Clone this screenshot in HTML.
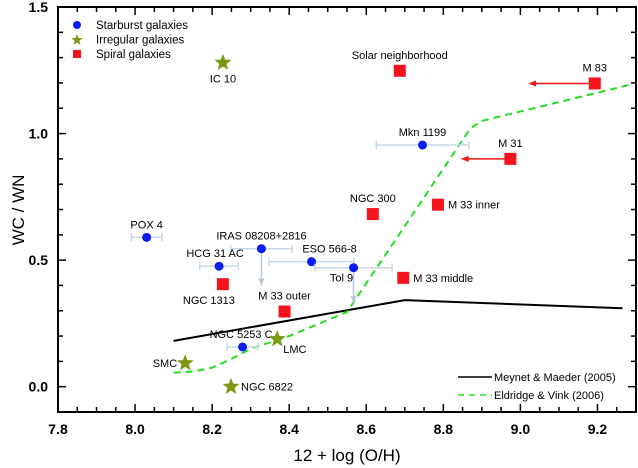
<!DOCTYPE html>
<html><head><meta charset="utf-8"><style>
html,body{margin:0;padding:0;background:#fff;}
svg{display:block;font-family:"Liberation Sans",Arial,sans-serif;}
</style></head><body>
<svg id="chart" width="638" height="468"></svg>
<script>
const xTicks=[7.8,8.0,8.2,8.4,8.6,8.8,9.0,9.2];
const yTicks=[0.0,0.5,1.0,1.5];
const starburstNames=["POX 4","IRAS 08208+2816","HCG 31 AC","ESO 566-8","Tol 9","Mkn 1199","NGC 5253 C"];
const starburstX=[8.03,8.328,8.218,8.458,8.567,8.746,8.279];
const starburstY=[0.59,0.545,0.476,0.494,0.47,0.955,0.157];
const starburstErr=[0.04,0.08,0.05,0.11,0.1,0.12,0.04];
const starburstUpper=[null,0.40,null,null,0.33,null,null];
const irregularNames=["IC 10","SMC","LMC","NGC 6822"];
const irregularX=[8.228,8.13,8.369,8.249];
const irregularY=[1.28,0.093,0.188,0.0];
const spiralNames=["Solar neighborhood","M 83","M 31","NGC 300","M 33 inner","M 33 middle","NGC 1313","M 33 outer"];
const spiralX=[8.687,9.193,8.974,8.617,8.786,8.696,8.228,8.388];
const spiralY=[1.248,1.198,0.9,0.682,0.719,0.43,0.405,0.297];
const spiralArrowTo=[null,9.02,8.845,null,null,null,null,null];
const meynetX=[8.1,8.7,9.265];
const meynetY=[0.181,0.342,0.31];
const eldridgeX=[8.10,8.15,8.20,8.25,8.30,8.40,8.55,8.87,8.90,9.29];
const eldridgeY=[0.055,0.06,0.075,0.11,0.15,0.20,0.295,1.02,1.05,1.195];

const L=58,R=636,T=7,B=412,X0=7.8,X1=9.3,Y0=-0.1,Y1=1.5;
const sx=v=>L+(v-X0)/(X1-X0)*(R-L);
const sy=v=>B-(v-Y0)/(Y1-Y0)*(B-T);
const svg=document.getElementById('chart');
const NS='http://www.w3.org/2000/svg';
function mk(tag,attrs,parent){const e=document.createElementNS(NS,tag);for(const k in attrs)e.setAttribute(k,attrs[k]);(parent||svg).appendChild(e);return e;}
function txt(x,y,s,attrs,parent){const e=mk('text',Object.assign({x:x,y:y},attrs||{}),parent);e.textContent=s;return e;}

// lines
const gl=mk('g',{});


const m=mk('polyline',{points:meynetX.map((v,i)=>sx(v)+','+sy(meynetY[i])).join(' '),fill:'none',stroke:'#000','stroke-width':2},gl);


const e2=mk('polyline',{points:eldridgeX.map((v,i)=>sx(v)+','+sy(eldridgeY[i])).join(' '),fill:'none',stroke:'#22dd22','stroke-width':2,'stroke-dasharray':'7,5'},gl);



// starburst
const sbLab=[[0,-9,'middle'],[0,-9,'middle'],[-4,-9,'middle'],[18,-9,'middle'],[-12,14,'middle'],[0,-9,'middle'],[-33,-9,'start']];
starburstX.forEach((v,i)=>{
  const g=mk('g',{});
  
  
  const x=sx(v),y=sy(starburstY[i]),xa=sx(v-starburstErr[i]),xb=sx(v+starburstErr[i]);
  mk('line',{x1:xa,x2:xb,y1:y,y2:y,stroke:'#c8d8e6','stroke-width':1.5},g);
  mk('line',{x1:xa,x2:xa,y1:y-4,y2:y+4,stroke:'#c8d8e6','stroke-width':1.5},g);
  mk('line',{x1:xb,x2:xb,y1:y-4,y2:y+4,stroke:'#c8d8e6','stroke-width':1.5},g);
  if(starburstUpper[i]!==null){const y2=sy(starburstUpper[i]);
    mk('line',{x1:x,x2:x,y1:y,y2:y2,stroke:'#b8c8d8','stroke-width':1.5},g);
    mk('polygon',{points:`${x-3},${y2-7} ${x+3},${y2-7} ${x},${y2}`,fill:'#b8c8d8'},g);}
  mk('circle',{cx:x,cy:y,r:4.5,fill:'#0a1cf5'},g);
  const lb=sbLab[i];
  const t=txt(x+lb[0],y+lb[1],starburstNames[i],{'font-size':11,'text-anchor':lb[2]},g);
  
  
});
// irregular stars
function star(cx,cy,r){let p=[];for(let k=0;k<10;k++){const a=-Math.PI/2+k*Math.PI/5,rr=k%2?r*0.42:r;p.push((cx+rr*Math.cos(a)).toFixed(1)+','+(cy+rr*Math.sin(a)).toFixed(1));}return p.join(' ');}
const irLab=[[0,20,'middle'],[-8,4,'end'],[6,14,'start'],[10,4,'start']];
irregularX.forEach((v,i)=>{
  const g=mk('g',{});
  
  
  const x=sx(v),y=sy(irregularY[i]);
  mk('polygon',{points:star(x,y,9),fill:'#7a9a12'},g);
  const t=txt(x+irLab[i][0],y+irLab[i][1],irregularNames[i],{'font-size':11,'text-anchor':irLab[i][2]},g);
  
  
});
// spiral squares
const spLab=[[0,-12,'middle'],[0,-12,'middle'],[0,-12,'middle'],[0,-12,'middle'],[10,4,'start'],[10,4,'start'],[-14,20,'middle'],[0,-12,'middle']];
spiralX.forEach((v,i)=>{
  const g=mk('g',{});
  
  
  const x=sx(v),y=sy(spiralY[i]);
  if(spiralArrowTo[i]!==null){const x2=sx(spiralArrowTo[i]);
    mk('line',{x1:x,x2:x2+6,y1:y,y2:y,stroke:'#f01818','stroke-width':1.5},g);
    mk('polygon',{points:`${x2+8},${y-3} ${x2+8},${y+3} ${x2},${y}`,fill:'#f01818'},g);}
  mk('rect',{x:x-6,y:y-6,width:12,height:12,fill:'#f5141e'},g);
  const t=txt(x+spLab[i][0],y+spLab[i][1],spiralNames[i],{'font-size':11,'text-anchor':spLab[i][2]},g);
  
  
});

// axes frame
const ax=mk('g',{});


mk('rect',{x:L,y:T,width:R-L,height:B-T,fill:'none',stroke:'#000','stroke-width':2},ax);
for(let k=0;k<=30;k++){const v=X0+k*0.05,x=sx(v),maj=k%4===0,len=maj?8:5;
  mk('line',{x1:x,x2:x,y1:B,y2:B-len,stroke:'#000','stroke-width':1.5},ax);
  mk('line',{x1:x,x2:x,y1:T,y2:T+len,stroke:'#000','stroke-width':1.5},ax);}
for(let k=0;k<=16;k++){const v=Y0+k*0.1,y=sy(v),maj=(k-1)%5===0,len=maj?8:5;
  mk('line',{x1:L,x2:L+len,y1:y,y2:y,stroke:'#000','stroke-width':1.5},ax);
  mk('line',{x1:R,x2:R-len,y1:y,y2:y,stroke:'#000','stroke-width':1.5},ax);}
xTicks.forEach(v=>{const t=txt(sx(v),434,v.toFixed(1),{'font-size':14,'font-weight':'bold','text-anchor':'middle'},ax);
  
  });
yTicks.forEach(v=>{const t=txt(48,sy(v)+5,v.toFixed(1),{'font-size':14,'font-weight':'bold','text-anchor':'end'},ax);
  
  });
const xt=txt(347,461,'12 + log (O/H)',{'font-size':17,'text-anchor':'middle'},ax);


const yt=txt(0,0,'WC / WN',{'font-size':17,'text-anchor':'middle',transform:'translate(24,210) rotate(-90)'},ax);



// legends
const lg=mk('g',{});


mk('circle',{cx:77,cy:25,r:4,fill:'#0a1cf5'},lg);
mk('polygon',{points:star(77,40,6),fill:'#7a9a12'},lg);
mk('rect',{x:73,y:50,width:8,height:8,fill:'#f5141e'},lg);
['Starburst galaxies','Irregular galaxies','Spiral galaxies'].forEach((s,i)=>{const t=txt(96,29+i*14.5,s,{'font-size':11.5},lg);
  
  });
const lg2=mk('g',{});


mk('line',{x1:458,x2:492,y1:377,y2:377,stroke:'#000','stroke-width':1.5},lg2);
mk('line',{x1:458,x2:492,y1:395,y2:395,stroke:'#22dd22','stroke-width':1.5,'stroke-dasharray':'6,5'},lg2);
const t1=txt(494,381,'Meynet & Maeder (2005)',{'font-size':11},lg2);


const t2=txt(494,399,'Eldridge & Vink (2006)',{'font-size':11},lg2);


</script>
</body></html>
